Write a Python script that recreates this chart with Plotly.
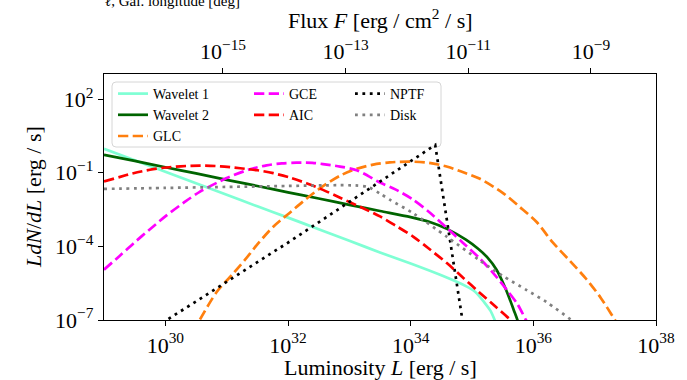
import numpy as np
import plotly.graph_objects as go

# ---- data (log10 values) ----
wav1_logL = [29.0, 29.5, 30.0, 30.5, 31.0, 31.5, 32.0, 32.5, 33.0, 33.5, 34.0, 34.5, 34.9, 35.05, 35.2, 35.3, 35.37, 35.43]
wav1_logy = [-0.03, -0.49, -0.96, -1.43, -1.90, -2.37, -2.83, -3.30, -3.77, -4.25, -4.70, -5.18, -5.62, -5.85, -6.28, -6.62, -7.0, -7.4]

wav2_logL = [29.0, 29.5, 30.0, 30.5, 31.0, 31.5, 32.0, 32.5, 33.0, 33.5, 34.0, 34.3, 34.6, 34.9, 35.1, 35.25, 35.4, 35.5, 35.6, 35.68, 35.75, 35.78]
wav2_logy = [-0.27, -0.52, -0.78, -1.03, -1.29, -1.54, -1.80, -2.05, -2.31, -2.56, -2.81, -3.0, -3.3, -3.73, -4.1, -4.45, -4.95, -5.45, -6.05, -6.59, -7.07, -7.4]

glc_logL = [30.45, 30.56, 30.84, 31.11, 31.38, 31.5, 31.76, 32.03, 32.3, 32.57, 32.85, 33.12, 33.39, 33.66, 33.99, 34.3, 34.6, 34.9, 35.13, 35.5, 35.78, 36.05, 36.32, 36.6, 36.87, 37.1, 37.33, 37.4]
glc_logy = [-7.5, -7.0, -5.85, -5.1, -4.3, -3.92, -3.2, -2.63, -2.06, -1.55, -1.12, -0.84, -0.67, -0.58, -0.55, -0.6, -0.76, -1.02, -1.25, -1.82, -2.4, -3.0, -3.85, -4.6, -5.35, -6.1, -7.0, -7.3]

gce_logL = [29.0, 29.25, 29.48, 29.75, 30.02, 30.3, 30.56, 31.0, 31.38, 31.65, 31.9, 32.14, 32.4, 32.57, 32.85, 33.12, 33.5, 33.75, 34.04, 34.3, 34.59, 34.85, 35.13, 35.35, 35.56, 35.74, 35.88, 35.97]
gce_logy = [-4.95, -4.4, -3.88, -3.3, -2.74, -2.22, -1.78, -1.22, -0.86, -0.7, -0.62, -0.59, -0.6, -0.65, -0.75, -0.9, -1.4, -1.68, -2.1, -2.6, -3.25, -3.85, -4.5, -5.1, -5.75, -6.35, -7.0, -7.4]

aic_logL = [29.0, 29.25, 29.48, 29.75, 29.97, 30.25, 30.56, 30.9, 31.22, 31.5, 31.76, 32.03, 32.3, 32.57, 32.85, 33.2, 33.5, 33.75, 34.04, 34.3, 34.59, 34.85, 35.13, 35.35, 35.54, 35.63, 35.72]
aic_logy = [-1.36, -1.18, -1.02, -0.88, -0.8, -0.74, -0.71, -0.74, -0.82, -0.9, -1.02, -1.2, -1.43, -1.7, -2.02, -2.42, -2.78, -3.15, -3.6, -4.1, -4.68, -5.27, -5.9, -6.38, -6.8, -7.0, -7.2]

nptf_logL = [29.95, 32.03, 34.40, 34.85]
nptf_logy = [-7.12, -3.8, 0.13, -7.1]

disk_logL = [29.0, 30.0, 31.0, 32.0, 32.8, 33.1, 33.3, 33.5, 33.66, 34.04, 34.59, 35.13, 35.5, 35.89, 36.22, 36.62, 36.75]
disk_logy = [-1.66, -1.62, -1.58, -1.54, -1.51, -1.52, -1.58, -1.85, -2.1, -2.65, -3.61, -4.58, -5.2, -5.78, -6.28, -7.0, -7.25]

# distance offset between luminosity and flux axes (log10 of 4*pi*d^2, d = 8.5 kpc)
log_4pi_d2 = 45.94

x_tick_exp = [30, 32, 34, 36, 38]
y_tick_exp = [2, -1, -4, -7]
flux_tick_exp = [-15, -13, -11, -9]
x_range_exp = [29.0, 38.0]
y_range_exp = [-7.0, 3.02]

series = [
    ("Wavelet 1", wav1_logL, wav1_logy, "#7FFFD4", "solid", "spline", "legend"),
    ("Wavelet 2", wav2_logL, wav2_logy, "#006400", "solid", "spline", "legend"),
    ("GLC", glc_logL, glc_logy, "#FF7F0E", "10.3px,4.4px", "spline", "legend"),
    ("GCE", gce_logL, gce_logy, "#FF00FF", "10.3px,4.4px", "spline", "legend2"),
    ("AIC", aic_logL, aic_logy, "#FF0000", "10.3px,4.4px", "spline", "legend2"),
    ("NPTF", nptf_logL, nptf_logy, "#000000", "2.8px,4.6px", "linear", "legend3"),
    ("Disk", disk_logL, disk_logy, "#808080", "2.8px,4.6px", "spline", "legend3"),
]

FONT = "'Liberation Serif', 'DejaVu Serif', serif"

def sup(e):
    s = str(e).replace("-", "\u2212")
    return f"10<sup>{s}</sup>"

def p10(v):
    return np.power(10.0, np.asarray(v, dtype=float))

fig = go.Figure()
for name, lx, ly, color, dash, shape, leg in series:
    fig.add_trace(go.Scatter(
        x=p10(lx), y=p10(ly), mode="lines", name=name,
        line=dict(color=color, width=2.7, dash=dash, shape=shape, smoothing=0.8),
        legend=leg, hoverinfo="skip"))

# invisible trace to carry the top flux axis
fig.add_trace(go.Scatter(
    x=p10([x_range_exp[0] - log_4pi_d2, x_range_exp[1] - log_4pi_d2]),
    y=p10([y_range_exp[0], y_range_exp[0]]),
    xaxis="x2", mode="lines", line=dict(width=0), showlegend=False, hoverinfo="skip"))

W, H = 687, 380
L0, R0, T0, B0 = 104, 31, 74, 60
pw, ph = W - L0 - R0, H - T0 - B0

def px(xpix):
    return (xpix - L0) / pw

def py(ypix):
    return (H - B0 - ypix) / ph

TITLE_SIZE = 22
tick_font = dict(family=FONT, size=22, color="black")

common_axis = dict(showgrid=False, zeroline=False, showline=True, linecolor="black",
                   linewidth=1.2, ticks="outside", ticklen=5, tickwidth=1.1,
                   tickcolor="black", tickfont=tick_font, automargin=False)

fig.update_layout(
    width=W, height=H,
    margin=dict(l=L0, r=R0, t=T0, b=B0, autoexpand=False),
    paper_bgcolor="white", plot_bgcolor="white",
    font=dict(family=FONT, color="black"),
    xaxis=dict(type="log", range=x_range_exp, mirror=True,
               tickvals=list(p10(x_tick_exp)), ticktext=[sup(e) for e in x_tick_exp],
               **common_axis),
    xaxis2=dict(type="log", overlaying="x", side="top", anchor="y",
                range=[x_range_exp[0] - log_4pi_d2, x_range_exp[1] - log_4pi_d2],
                tickvals=list(p10(flux_tick_exp)), ticktext=[sup(e) for e in flux_tick_exp],
                **common_axis),
    yaxis=dict(type="log", range=y_range_exp, mirror=True,
               tickvals=list(p10(y_tick_exp)), ticktext=[sup(e) for e in y_tick_exp],
               **common_axis),
)

# axis titles as annotations (precise placement)
title_font = dict(family=FONT, size=TITLE_SIZE, color="black")
fig.add_annotation(text="Luminosity <i>L</i> [erg / s]", xref="paper", yref="paper",
                   x=0.5, y=py(382), xanchor="center", yanchor="bottom",
                   showarrow=False, font=title_font)
fig.add_annotation(text="Flux <i>F</i> [erg / cm<sup>2</sup> / s]", xref="paper", yref="paper",
                   x=0.5, y=py(35), xanchor="center", yanchor="bottom",
                   showarrow=False, font=title_font)
fig.add_annotation(text="<i>LdN</i>/<i>dL</i> [erg / s]", xref="paper", yref="paper",
                   x=px(33), y=0.5, xanchor="center", yanchor="middle", textangle=-90,
                   showarrow=False, font=title_font)

leg_common = dict(bgcolor="rgba(0,0,0,0)", borderwidth=0, orientation="v",
                   font=dict(family=FONT, size=14, color="black"),
                   xanchor="left", yanchor="top", tracegroupgap=0)
fig.update_layout(
    legend=dict(x=px(113), y=py(78), **leg_common),
    legend2=dict(x=px(249), y=py(78), **leg_common),
    legend3=dict(x=px(350), y=py(78), **leg_common),
)

# legend frame (rounded)
x0, x1, y0, y1 = px(112), px(441), py(147), py(82)
rx, ry = 4 / pw, 4 / ph
path = (f"M {x0+rx},{y0} L {x1-rx},{y0} Q {x1},{y0} {x1},{y0+ry} "
        f"L {x1},{y1-ry} Q {x1},{y1} {x1-rx},{y1} L {x0+rx},{y1} Q {x0},{y1} {x0},{y1-ry} "
        f"L {x0},{y0+ry} Q {x0},{y0} {x0+rx},{y0} Z")
fig.add_shape(type="path", path=path, xref="paper", yref="paper",
              line=dict(color="#d6d6d6", width=1), fillcolor="rgba(255,255,255,0.8)", layer="below")

# partially visible label from a panel above
fig.add_annotation(text="<i>ℓ</i>, Gal. longitude [deg]", xref="paper", yref="paper",
                   x=px(103), y=py(10.5), xanchor="left", yanchor="bottom", showarrow=False,
                   font=dict(family=FONT, size=15, color="black"))

fig.write_html("out.html", config={"displayModeBar": False},
               post_script="document.body.style.margin='0px';")
